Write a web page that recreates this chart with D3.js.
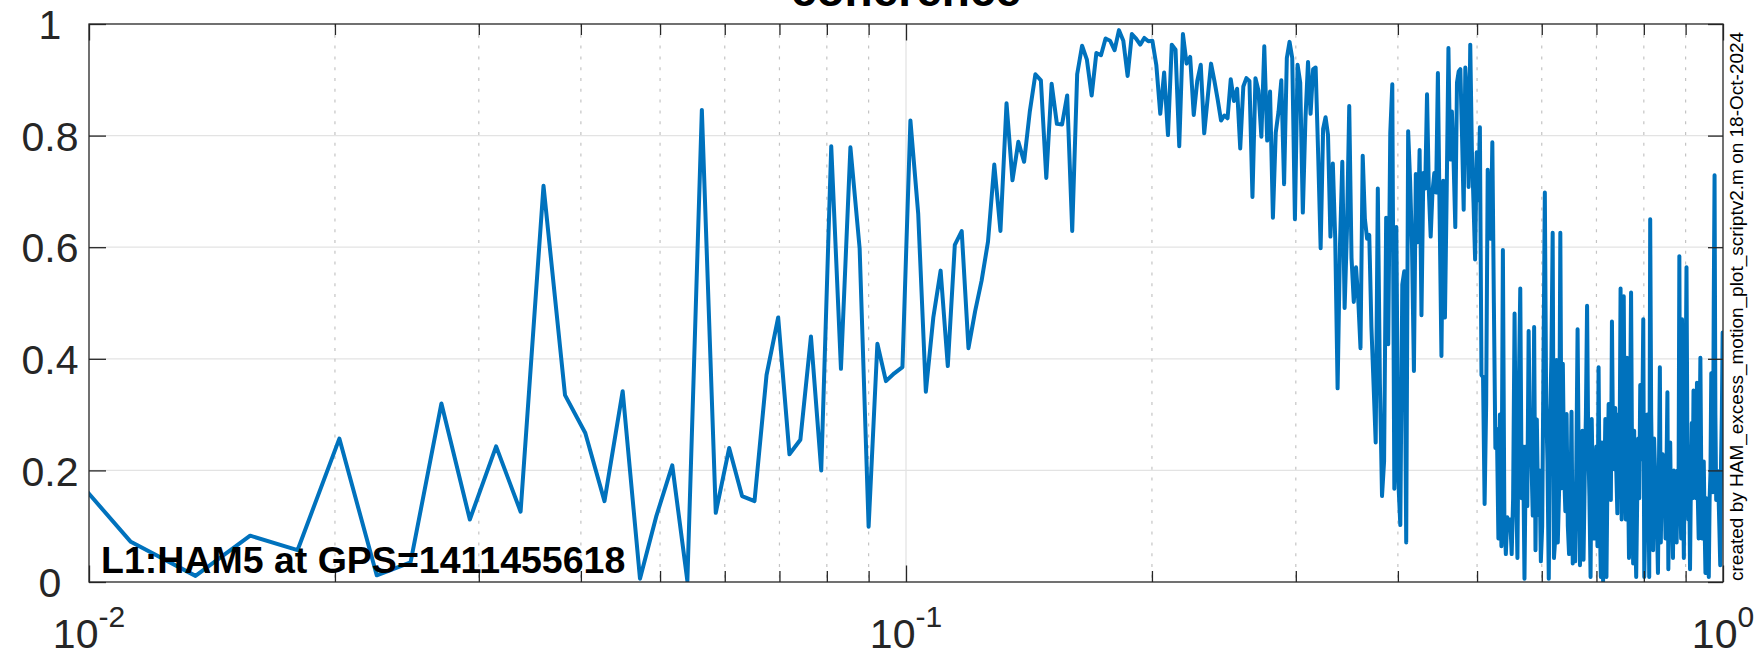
<!DOCTYPE html>
<html><head><meta charset="utf-8">
<script src="https://cdn.jsdelivr.net/npm/d3@7/dist/d3.min.js"></script>
<style>html,body{margin:0;padding:0;background:#fff;} svg{display:block;}</style>
</head><body>
<svg id="chart" width="1759" height="657"></svg>
<script>
// ---------------- data ----------------
const chartTitle = "coherence";
const annotation = "L1:HAM5 at GPS=1411455618";
const creditText = "created by HAM_excess_motion_plot_scriptv2.m on 18-Oct-2024";

// frequency grid: bin index * bin width (Hz)
const firstBin = 4;
const binWidthHz = 0.00225;

// coherence values, one per frequency bin starting at firstBin
const coherence = [
  0.235, 0.072, 0.011, 0.083, 0.057, 0.257, 0.012, 0.035, 0.320, 0.112,
  0.243, 0.126, 0.710, 0.335, 0.267, 0.145, 0.342, 0.006, 0.119, 0.209,
  0.002, 0.846, 0.124, 0.240, 0.154, 0.145, 0.371, 0.474, 0.229, 0.255,
  0.440, 0.200, 0.781, 0.382, 0.779, 0.598, 0.099, 0.427, 0.360, 0.374,
  0.385, 0.827, 0.660, 0.341, 0.474, 0.558, 0.387, 0.604, 0.629, 0.419,
  0.485, 0.540, 0.610, 0.748, 0.629, 0.858, 0.720, 0.789, 0.753, 0.843,
  0.910, 0.899, 0.724, 0.893, 0.821, 0.820, 0.872, 0.629, 0.910, 0.961,
  0.936, 0.872, 0.948, 0.944, 0.974, 0.970, 0.953, 0.989, 0.970, 0.907,
  0.982, 0.974, 0.963, 0.975, 0.969, 0.970, 0.926, 0.839, 0.913, 0.801,
  0.963, 0.954, 0.781, 0.982, 0.929, 0.941, 0.837, 0.898, 0.927, 0.804,
  0.867, 0.929, 0.898, 0.864, 0.827, 0.836, 0.831, 0.901, 0.862, 0.884,
  0.777, 0.888, 0.903, 0.898, 0.690, 0.903, 0.881, 0.798, 0.960, 0.791,
  0.879, 0.653, 0.805, 0.843, 0.899, 0.713, 0.939, 0.968, 0.939, 0.650,
  0.927, 0.895, 0.662, 0.829, 0.932, 0.839, 0.919, 0.922, 0.767, 0.598,
  0.812, 0.833, 0.801, 0.619, 0.750, 0.615, 0.347, 0.602, 0.753, 0.491,
  0.629, 0.853, 0.581, 0.502, 0.564, 0.505, 0.419, 0.764, 0.650, 0.615,
  0.622, 0.457, 0.354, 0.250, 0.705, 0.354, 0.154, 0.216, 0.653, 0.426,
  0.805, 0.892, 0.167, 0.636, 0.181, 0.102, 0.533, 0.557, 0.071, 0.808,
  0.720, 0.600, 0.378, 0.731, 0.609, 0.774, 0.478, 0.733, 0.705, 0.874,
  0.700, 0.619, 0.700, 0.733, 0.698, 0.912, 0.650, 0.405, 0.719, 0.474,
  0.700, 0.957, 0.757, 0.843, 0.753, 0.636, 0.895, 0.915, 0.919, 0.800,
  0.667, 0.922, 0.870, 0.708, 0.963, 0.774, 0.680, 0.578, 0.770, 0.684,
  0.815, 0.371, 0.367, 0.140, 0.319, 0.739, 0.680, 0.615, 0.788, 0.500,
  0.240, 0.274, 0.078, 0.300, 0.064, 0.595, 0.116, 0.050, 0.116, 0.100,
  0.112, 0.050, 0.150, 0.481, 0.181, 0.043, 0.350, 0.526, 0.150, 0.243,
  0.006, 0.243, 0.136, 0.450, 0.230, 0.220, 0.119, 0.457, 0.057, 0.291,
  0.120, 0.200, 0.037, 0.100, 0.400, 0.698, 0.319, 0.215, 0.006, 0.291,
  0.400, 0.626, 0.043, 0.078, 0.398, 0.071, 0.161, 0.626, 0.168, 0.391,
  0.200, 0.127, 0.301, 0.100, 0.050, 0.120, 0.305, 0.033, 0.150, 0.037,
  0.220, 0.453, 0.200, 0.030, 0.140, 0.271, 0.040, 0.188, 0.300, 0.495,
  0.250, 0.154, 0.009, 0.292, 0.160, 0.078, 0.200, 0.243, 0.064, 0.385,
  0.120, 0.009, 0.250, 0.002, 0.150, 0.292, 0.009, 0.200, 0.319, 0.200,
  0.147, 0.467, 0.250, 0.202, 0.312, 0.200, 0.123, 0.300, 0.200, 0.526,
  0.112, 0.300, 0.512, 0.200, 0.112, 0.402, 0.200, 0.043, 0.300, 0.519,
  0.200, 0.033, 0.271, 0.100, 0.009, 0.150, 0.257, 0.150, 0.353, 0.220,
  0.285, 0.471, 0.009, 0.100, 0.181, 0.300, 0.257, 0.009, 0.650, 0.300,
  0.181, 0.057, 0.257, 0.200, 0.147, 0.100, 0.016, 0.200, 0.385, 0.071,
  0.200, 0.229, 0.120, 0.167, 0.078, 0.200, 0.340, 0.023, 0.150, 0.250,
  0.100, 0.147, 0.043, 0.200, 0.181, 0.120, 0.071, 0.200, 0.112, 0.584,
  0.150, 0.078, 0.471, 0.200, 0.043, 0.216, 0.350, 0.564, 0.250, 0.112,
  0.200, 0.023, 0.180, 0.285, 0.150, 0.343, 0.200, 0.285, 0.150, 0.357,
  0.150, 0.078, 0.250, 0.402, 0.200, 0.078, 0.150, 0.216, 0.100, 0.016,
  0.150, 0.112, 0.050, 0.009, 0.150, 0.195, 0.374, 0.200, 0.161, 0.500,
  0.729, 0.300, 0.147, 0.200, 0.167, 0.150, 0.092, 0.030, 0.216, 0.300,
  0.447, 0.420
];

const yTicks = [0, 0.2, 0.4, 0.6, 0.8, 1];
const yTickLabels = ["0", "0.2", "0.4", "0.6", "0.8", "1"];
const xMajorTicks = [0.01, 0.1, 1];
const xMajorExponents = ["-2", "-1", "0"];
const xMinorTicks = [0.02, 0.03, 0.04, 0.05, 0.06, 0.07, 0.08, 0.09,
                     0.2, 0.3, 0.4, 0.5, 0.6, 0.7, 0.8, 0.9];

// ---------------- layout ----------------
const plot = {left: 89, right: 1723, top: 24, bottom: 582};
const axisColor = "#262626";
const fontFamily = "'Liberation Sans', Arial, Helvetica, sans-serif";
const lineColor = "#0072BD";

const svg = d3.select("#chart");
const x = d3.scaleLog().domain([0.01, 1]).range([plot.left, plot.right]);
const y = d3.scaleLinear().domain([0, 1]).range([plot.bottom, plot.top]);

const points = coherence.map((v, i) => ({f: (firstBin + i) * binWidthHz, c: v}));

// clip
svg.append("defs").append("clipPath").attr("id", "plotClip")
  .append("rect")
  .attr("x", plot.left).attr("y", plot.top)
  .attr("width", plot.right - plot.left).attr("height", plot.bottom - plot.top);

// grid
const grid = svg.append("g");
grid.selectAll("line.ymaj").data(yTicks.slice(1, -1)).enter().append("line")
  .attr("x1", plot.left).attr("x2", plot.right)
  .attr("y1", d => y(d)).attr("y2", d => y(d))
  .attr("stroke", "#e3e3e3").attr("stroke-width", 1.3);
grid.selectAll("line.xmaj").data(xMajorTicks.slice(1, -1)).enter().append("line")
  .attr("x1", d => x(d)).attr("x2", d => x(d))
  .attr("y1", plot.top).attr("y2", plot.bottom)
  .attr("stroke", "#e3e3e3").attr("stroke-width", 1.3);
grid.selectAll("line.xmin").data(xMinorTicks).enter().append("line")
  .attr("x1", d => x(d)).attr("x2", d => x(d))
  .attr("y1", plot.top).attr("y2", plot.bottom)
  .attr("stroke", "#c4c4c4").attr("stroke-width", 1.2)
  .attr("stroke-dasharray", "3,7.8");

// data line
const lineGen = d3.line().x(d => x(d.f)).y(d => y(d.c));
svg.append("path").datum(points)
  .attr("clip-path", "url(#plotClip)")
  .attr("d", lineGen)
  .attr("fill", "none")
  .attr("stroke", lineColor)
  .attr("stroke-width", 4)
  .attr("stroke-linejoin", "round");

// axes (ticks inward)
function styleAxis(g) {
  g.selectAll(".domain").remove();
  g.selectAll(".tick line").attr("stroke", axisColor).attr("stroke-width", 1.3);
  g.selectAll(".tick text").attr("fill", axisColor);
}
svg.append("g").attr("transform", `translate(0,${plot.bottom})`)
  .call(d3.axisBottom(x).tickValues(xMajorTicks).tickSizeInner(-16.5).tickSizeOuter(0).tickFormat(() => ""))
  .call(styleAxis);
svg.append("g").attr("transform", `translate(0,${plot.bottom})`)
  .call(d3.axisBottom(x).tickValues(xMinorTicks).tickSizeInner(-11).tickSizeOuter(0).tickFormat(() => ""))
  .call(styleAxis);
svg.append("g").attr("transform", `translate(0,${plot.top})`)
  .call(d3.axisTop(x).tickValues(xMajorTicks).tickSizeInner(-16.5).tickSizeOuter(0).tickFormat(() => ""))
  .call(styleAxis);
svg.append("g").attr("transform", `translate(0,${plot.top})`)
  .call(d3.axisTop(x).tickValues(xMinorTicks).tickSizeInner(-11).tickSizeOuter(0).tickFormat(() => ""))
  .call(styleAxis);
svg.append("g").attr("transform", `translate(${plot.left},0)`)
  .call(d3.axisLeft(y).tickValues(yTicks).tickSizeInner(-17).tickSizeOuter(0).tickPadding(39)
        .tickFormat((d, i) => yTickLabels[i]))
  .call(styleAxis)
  .call(g => g.selectAll(".tick text")
      .attr("text-anchor", "middle")
      .attr("font-family", fontFamily).attr("font-size", 41).attr("dy", "0.36em"));
svg.append("g").attr("transform", `translate(${plot.right},0)`)
  .call(d3.axisRight(y).tickValues(yTicks).tickSizeInner(-15).tickSizeOuter(0).tickFormat(() => ""))
  .call(styleAxis);

// box
svg.append("rect")
  .attr("x", plot.left).attr("y", plot.top)
  .attr("width", plot.right - plot.left).attr("height", plot.bottom - plot.top)
  .attr("fill", "none").attr("stroke", axisColor).attr("stroke-width", 1.3);

// x tick labels 10^n
const xl = svg.append("g").attr("font-family", fontFamily).attr("fill", axisColor);
xMajorTicks.forEach((v, i) => {
  const t = xl.append("text").attr("x", x(v)).attr("y", 648).attr("text-anchor", "middle");
  t.append("tspan").attr("font-size", 41).text("10");
  t.append("tspan").attr("font-size", 30).attr("dy", -21).text(xMajorExponents[i]);
});

// title (clipped at top of figure, as in the reference)
svg.append("text")
  .attr("x", (plot.left + plot.right) / 2).attr("y", 6)
  .attr("text-anchor", "middle")
  .attr("font-family", fontFamily).attr("font-weight", "bold").attr("font-size", 46)
  .attr("fill", "#000").text(chartTitle);

// annotation inside axes
svg.append("text")
  .attr("x", 101).attr("y", 573)
  .attr("font-family", fontFamily).attr("font-weight", "bold").attr("font-size", 37.5)
  .attr("fill", "#000").text(annotation);

// credit text, rotated
svg.append("text")
  .attr("transform", "translate(1743,581) rotate(-90)")
  .attr("font-family", fontFamily).attr("font-size", 19)
  .attr("fill", "#000").text(creditText);
</script>
</body></html>
